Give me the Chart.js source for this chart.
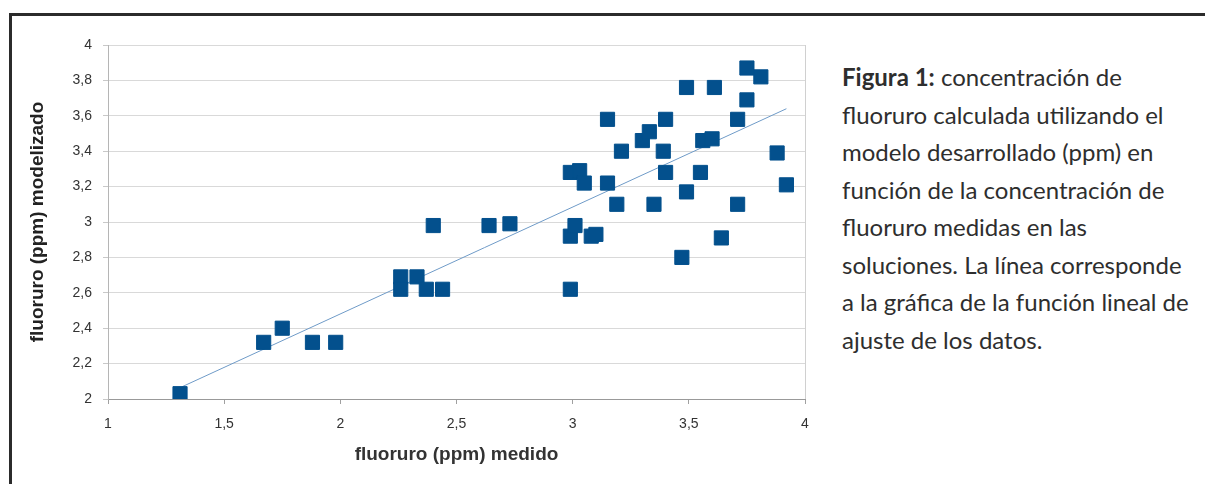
<!DOCTYPE html>
<html>
<head>
<meta charset="utf-8">
<script src="https://cdn.jsdelivr.net/npm/chart.js@4"></script>
<style>
  html, body { margin: 0; padding: 0; background: #fff; width: 1205px; height: 484px; overflow: hidden; }
  #frame { position: absolute; left: 9px; top: 13px; width: 1220px; height: 500px; border: 3px solid #2b2b2b; }
  #wrap { position: absolute; left: 12px; top: 16px; width: 804px; height: 450px; }
  #caption { position: absolute; left: 842px; top: 58px; width: 365px; white-space: nowrap; font-family: "Lato", sans-serif; font-size: 24px; line-height: 37.5px; color: #2e2e2e; }
  #caption b { font-weight: 700; }
</style>
</head>
<body>
<div id="frame"></div>
<div id="wrap"><canvas id="fluoruro"></canvas></div>
<div id="caption"><b>Figura 1:</b> concentración de<br>fluoruro calculada utilizando el<br>modelo desarrollado (ppm) en<br>función de la concentración de<br>fluoruro medidas en las<br>soluciones. La línea corresponde<br>a la gráfica de la función lineal de<br>ajuste de los datos.</div>
<script>
// fluoruro medido (x) y modelizado (y), ppm
const medido = [1.31, 1.67, 1.75, 1.88, 1.98, 2.26, 2.33, 2.26, 2.37, 2.44,
  2.40, 2.64, 2.73, 2.99, 2.99, 3.01, 3.08, 3.10, 2.99, 3.03,
  3.05, 3.15, 3.19, 3.15, 3.21, 3.30, 3.33, 3.40, 3.39, 3.40,
  3.35, 3.47, 3.49, 3.49, 3.55, 3.56, 3.60, 3.61, 3.64, 3.71,
  3.71, 3.75, 3.75, 3.81, 3.88, 3.92];
const modelizado = [2.03, 2.32, 2.40, 2.32, 2.32, 2.69, 2.69, 2.62, 2.62, 2.62,
  2.98, 2.98, 2.99, 2.62, 2.92, 2.98, 2.92, 2.93, 3.28, 3.29,
  3.22, 3.22, 3.10, 3.58, 3.40, 3.46, 3.51, 3.58, 3.40, 3.28,
  3.10, 2.80, 3.17, 3.76, 3.28, 3.46, 3.47, 3.76, 2.91, 3.10,
  3.58, 3.69, 3.87, 3.82, 3.39, 3.21];
// recta de ajuste
const ajusteX = [1.32, 3.92];
const ajusteY = [2.07, 3.64];

const xTicks = ["1", "1,5", "2", "2,5", "3", "3,5", "4"];
const yTicks = ["2", "2,2", "2,4", "2,6", "2,8", "3", "3,2", "3,4", "3,6", "3,8", "4"];

const azul = "#03508d";

new Chart(document.getElementById("fluoruro"), {
  type: "scatter",
  data: {
    datasets: [
      {
        label: "datos",
        data: medido.map((x, i) => ({ x: x, y: modelizado[i] })),
        pointStyle: "rect",
        pointRadius: 10,
        pointHoverRadius: 10,
        backgroundColor: azul,
        borderColor: azul,
        borderWidth: 1,
        order: 1,
      },
      {
        type: "line",
        label: "ajuste",
        data: ajusteX.map((x, i) => ({ x: x, y: ajusteY[i] })),
        borderColor: "#6f9bc8",
        borderWidth: 1,
        pointRadius: 0,
        fill: false,
        order: 2,
      },
    ],
  },
  options: {
    responsive: true,
    maintainAspectRatio: false,
    animation: false,
    layout: { padding: { left: 14, right: 0, top: 29, bottom: 0 } },
    plugins: { legend: { display: false }, tooltip: { enabled: false } },
    scales: {
      x: {
        type: "linear",
        min: 1,
        max: 4,
        afterFit: (s) => { s.height = 67; s.paddingRight = 8; },
        ticks: {
          stepSize: 0.5,
          padding: 12,
          color: "#333",
          font: { family: "Liberation Sans", size: 14 },
          callback: (v, i) => xTicks[i],
        },
        grid: {
          drawOnChartArea: true,
          color: (c) => (c.tick && c.tick.value === 4 ? "#d0d0d0" : "rgba(0,0,0,0)"),
          tickColor: "#a0a0a0",
          tickLength: 5,
        },
        border: { color: "#999", width: 1 },
        title: {
          display: true,
          text: "fluoruro (ppm) medido",
          color: "#333",
          padding: 0,
          font: { family: "Liberation Sans", size: 19, weight: "bold" },
        },
      },
      y: {
        type: "linear",
        min: 2,
        max: 4,
        afterFit: (s) => { s.width = 82; },
        ticks: {
          stepSize: 0.2,
          padding: 11,
          color: "#333",
          font: { family: "Liberation Sans", size: 14 },
          callback: (v, i) => yTicks[i],
        },
        grid: { color: "#d9d9d9", tickColor: "#c8c8c8", tickLength: 5 },
        border: { color: "#b5b5b5", width: 1 },
        title: {
          display: true,
          text: "fluoruro (ppm) modelizado",
          color: "#222",
          padding: 0,
          font: { family: "Liberation Sans", size: 19, weight: "bold" },
        },
      },
    },
  },
});
</script>
</body>
</html>
